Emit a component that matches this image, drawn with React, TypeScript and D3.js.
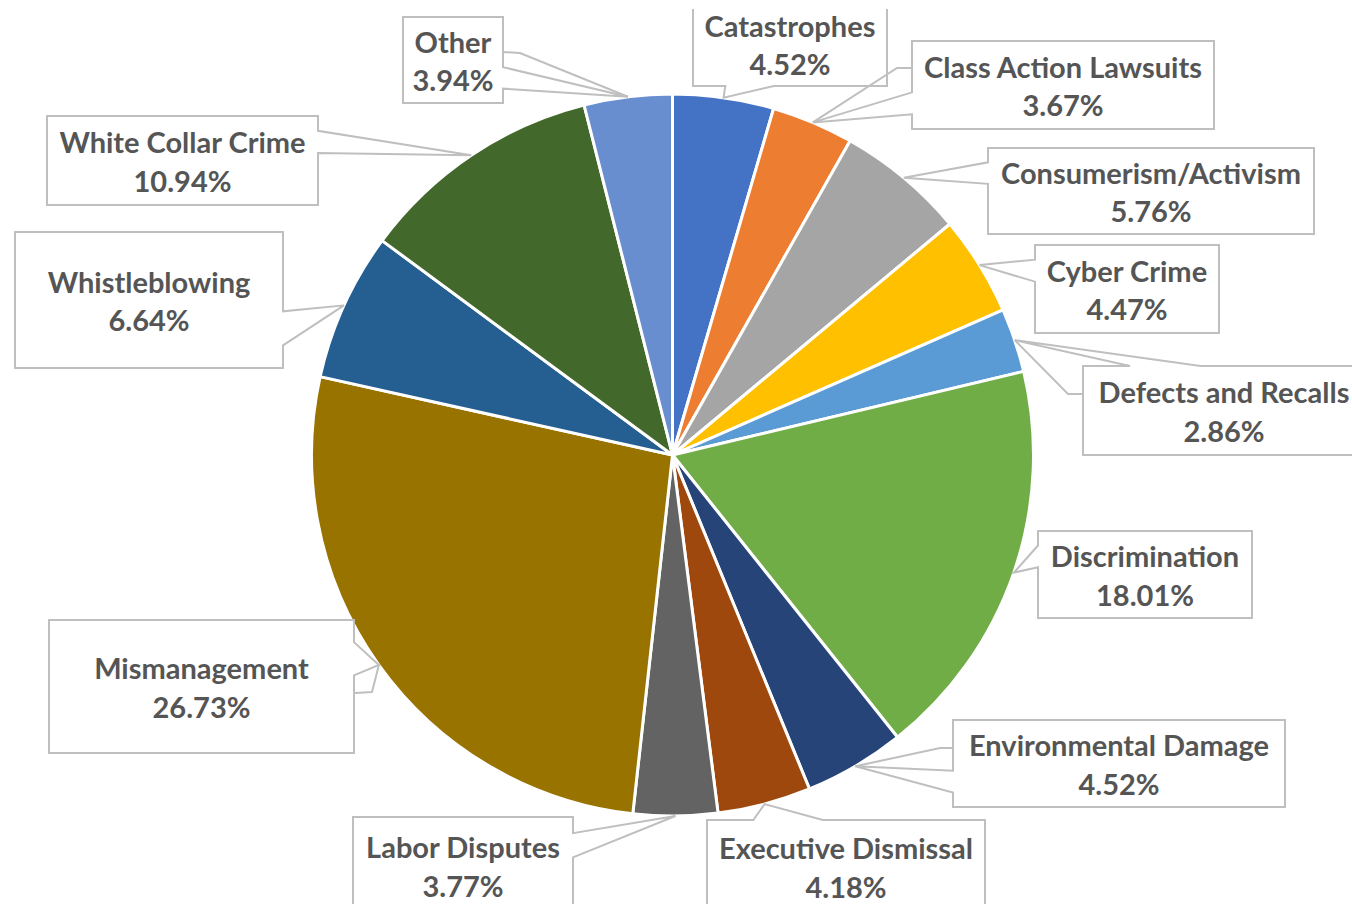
import React from "react";
import * as d3 from "d3";

const categories = [
  "Catastrophes",
  "Class Action Lawsuits",
  "Consumerism/Activism",
  "Cyber Crime",
  "Defects and Recalls",
  "Discrimination",
  "Environmental Damage",
  "Executive Dismissal",
  "Labor Disputes",
  "Mismanagement",
  "Whistleblowing",
  "White Collar Crime",
  "Other",
];
const values = [4.52, 3.67, 5.76, 4.47, 2.86, 18.01, 4.52, 4.18, 3.77, 26.73, 6.64, 10.94, 3.94];
const colors = [
  "#4472C4", "#ED7D31", "#A5A5A5", "#FFC000", "#5B9BD5", "#70AD47",
  "#264478", "#9E480E", "#636363", "#997300", "#255E91", "#43682B", "#698ED0",
];

// label box layout [x, y, w, h]
const labelBoxes: [number, number, number, number][] = [
  [693, 2, 194, 84],
  [912, 41, 302, 88],
  [988, 148, 326, 86],
  [1035, 245, 184, 88],
  [1083, 366, 282, 89],
  [1038, 531, 214, 87],
  [953, 720, 332, 87],
  [707, 820, 278, 93],
  [353, 817, 220, 97],
  [49, 620, 305, 133],
  [15, 232, 268, 136],
  [47, 116, 271, 89],
  [403, 17, 100, 86],
];
// optional leader lines: [edge point, elbow point] then to slice
const leaders: ([number, number][] | null)[] = [
  null,
  [[912, 68], [897, 68]],
  null,
  null,
  [[1083, 394], [1068, 394]],
  null,
  [[953, 748], [940, 748]],
  null,
  null,
  [[355, 693], [372, 692]],
  null,
  null,
  [[503, 52], [520, 53]],
];

const W = 1352;
const H = 904;
const CX = 672.5;
const CY = 455;
const R = 361;

function calloutPath(b: [number, number, number, number], tip: [number, number]) {
  const [l, t, w, h] = b;
  const r = l + w;
  const bt = t + h;
  const cx = l + w / 2;
  const cy = t + h / 2;
  const dx = tip[0] - cx;
  const dy = tip[1] - cy;
  const dq = (dx * h) / w;
  const x1 = l + (w * (dx > 0 ? 7 : 2)) / 12;
  const x2 = l + (w * (dx > 0 ? 10 : 5)) / 12;
  const y1 = t + (h * (dy > 0 ? 7 : 2)) / 12;
  const y2 = t + (h * (dy > 0 ? 10 : 5)) / 12;
  let side: string;
  if (Math.abs(dy) > Math.abs(dq)) side = dy < 0 ? "top" : "bottom";
  else side = dx < 0 ? "left" : "right";
  const p = d3.path();
  const T = tip;
  p.moveTo(l, t);
  if (side === "top") {
    p.lineTo(x1, t); p.lineTo(T[0], T[1]); p.lineTo(x2, t);
  }
  p.lineTo(r, t);
  if (side === "right") {
    p.lineTo(r, y1); p.lineTo(T[0], T[1]); p.lineTo(r, y2);
  }
  p.lineTo(r, bt);
  if (side === "bottom") {
    p.lineTo(x2, bt); p.lineTo(T[0], T[1]); p.lineTo(x1, bt);
  }
  p.lineTo(l, bt);
  if (side === "left") {
    p.lineTo(l, y2); p.lineTo(T[0], T[1]); p.lineTo(l, y1);
  }
  p.closePath();
  return p.toString();
}

export default function App() {
  const pie = d3.pie<number>().sort(null).value((d) => d);
  const arcs = pie(values);
  const arc = d3.arc<d3.PieArcDatum<number>>().innerRadius(0).outerRadius(R);

  const fontSize = 29;
  return (
    <svg
      width={W}
      height={H}
      style={{ position: "absolute", left: 0, top: 0, background: "#fff" }}
    >
      <defs>
        <clipPath id="clipArea">
          <rect x={0} y={9} width={W} height={H - 9} />
        </clipPath>
      </defs>
      <g clipPath="url(#clipArea)">
        <g transform={`translate(${CX},${CY})`}>
          {arcs.map((a, i) => (
            <path key={i} d={arc(a) || ""} fill={colors[i]} stroke="#fff" strokeWidth={3} strokeLinejoin="round" />
          ))}
        </g>
        {arcs.map((a, i) => {
          const mid = (a.startAngle + a.endAngle) / 2;
          const tip: [number, number] = [CX + R * Math.sin(mid), CY - R * Math.cos(mid)];
          const b = labelBoxes[i];
          const ld = leaders[i];
          const bcx = b[0] + b[2] / 2;
          const bcy = b[1] + b[3] / 2;
          return (
            <g key={"l" + i}>
              {ld && (
                <polyline
                  points={[...ld, tip].map((p) => p.join(",")).join(" ")}
                  fill="none"
                  stroke="#BFBFBF"
                  strokeWidth={2}
                />
              )}
              <path d={calloutPath(b, tip)} fill="#fff" stroke="#BFBFBF" strokeWidth={2} strokeLinejoin="miter" />
              <text
                x={bcx}
                y={bcy - 19}
                textAnchor="middle"
                dominantBaseline="central"
                fontFamily="Lato, 'Open Sans', sans-serif"
                fontWeight={700}
                fontSize={fontSize}
                fill="#555555"
              >
                {categories[i]}
              </text>
              <text
                x={bcx}
                y={bcy + 19.5}
                textAnchor="middle"
                dominantBaseline="central"
                fontFamily="Lato, 'Open Sans', sans-serif"
                fontWeight={700}
                fontSize={fontSize}
                fill="#555555"
              >
                {values[i].toFixed(2) + "%"}
              </text>
            </g>
          );
        })}
      </g>
    </svg>
  );
}
